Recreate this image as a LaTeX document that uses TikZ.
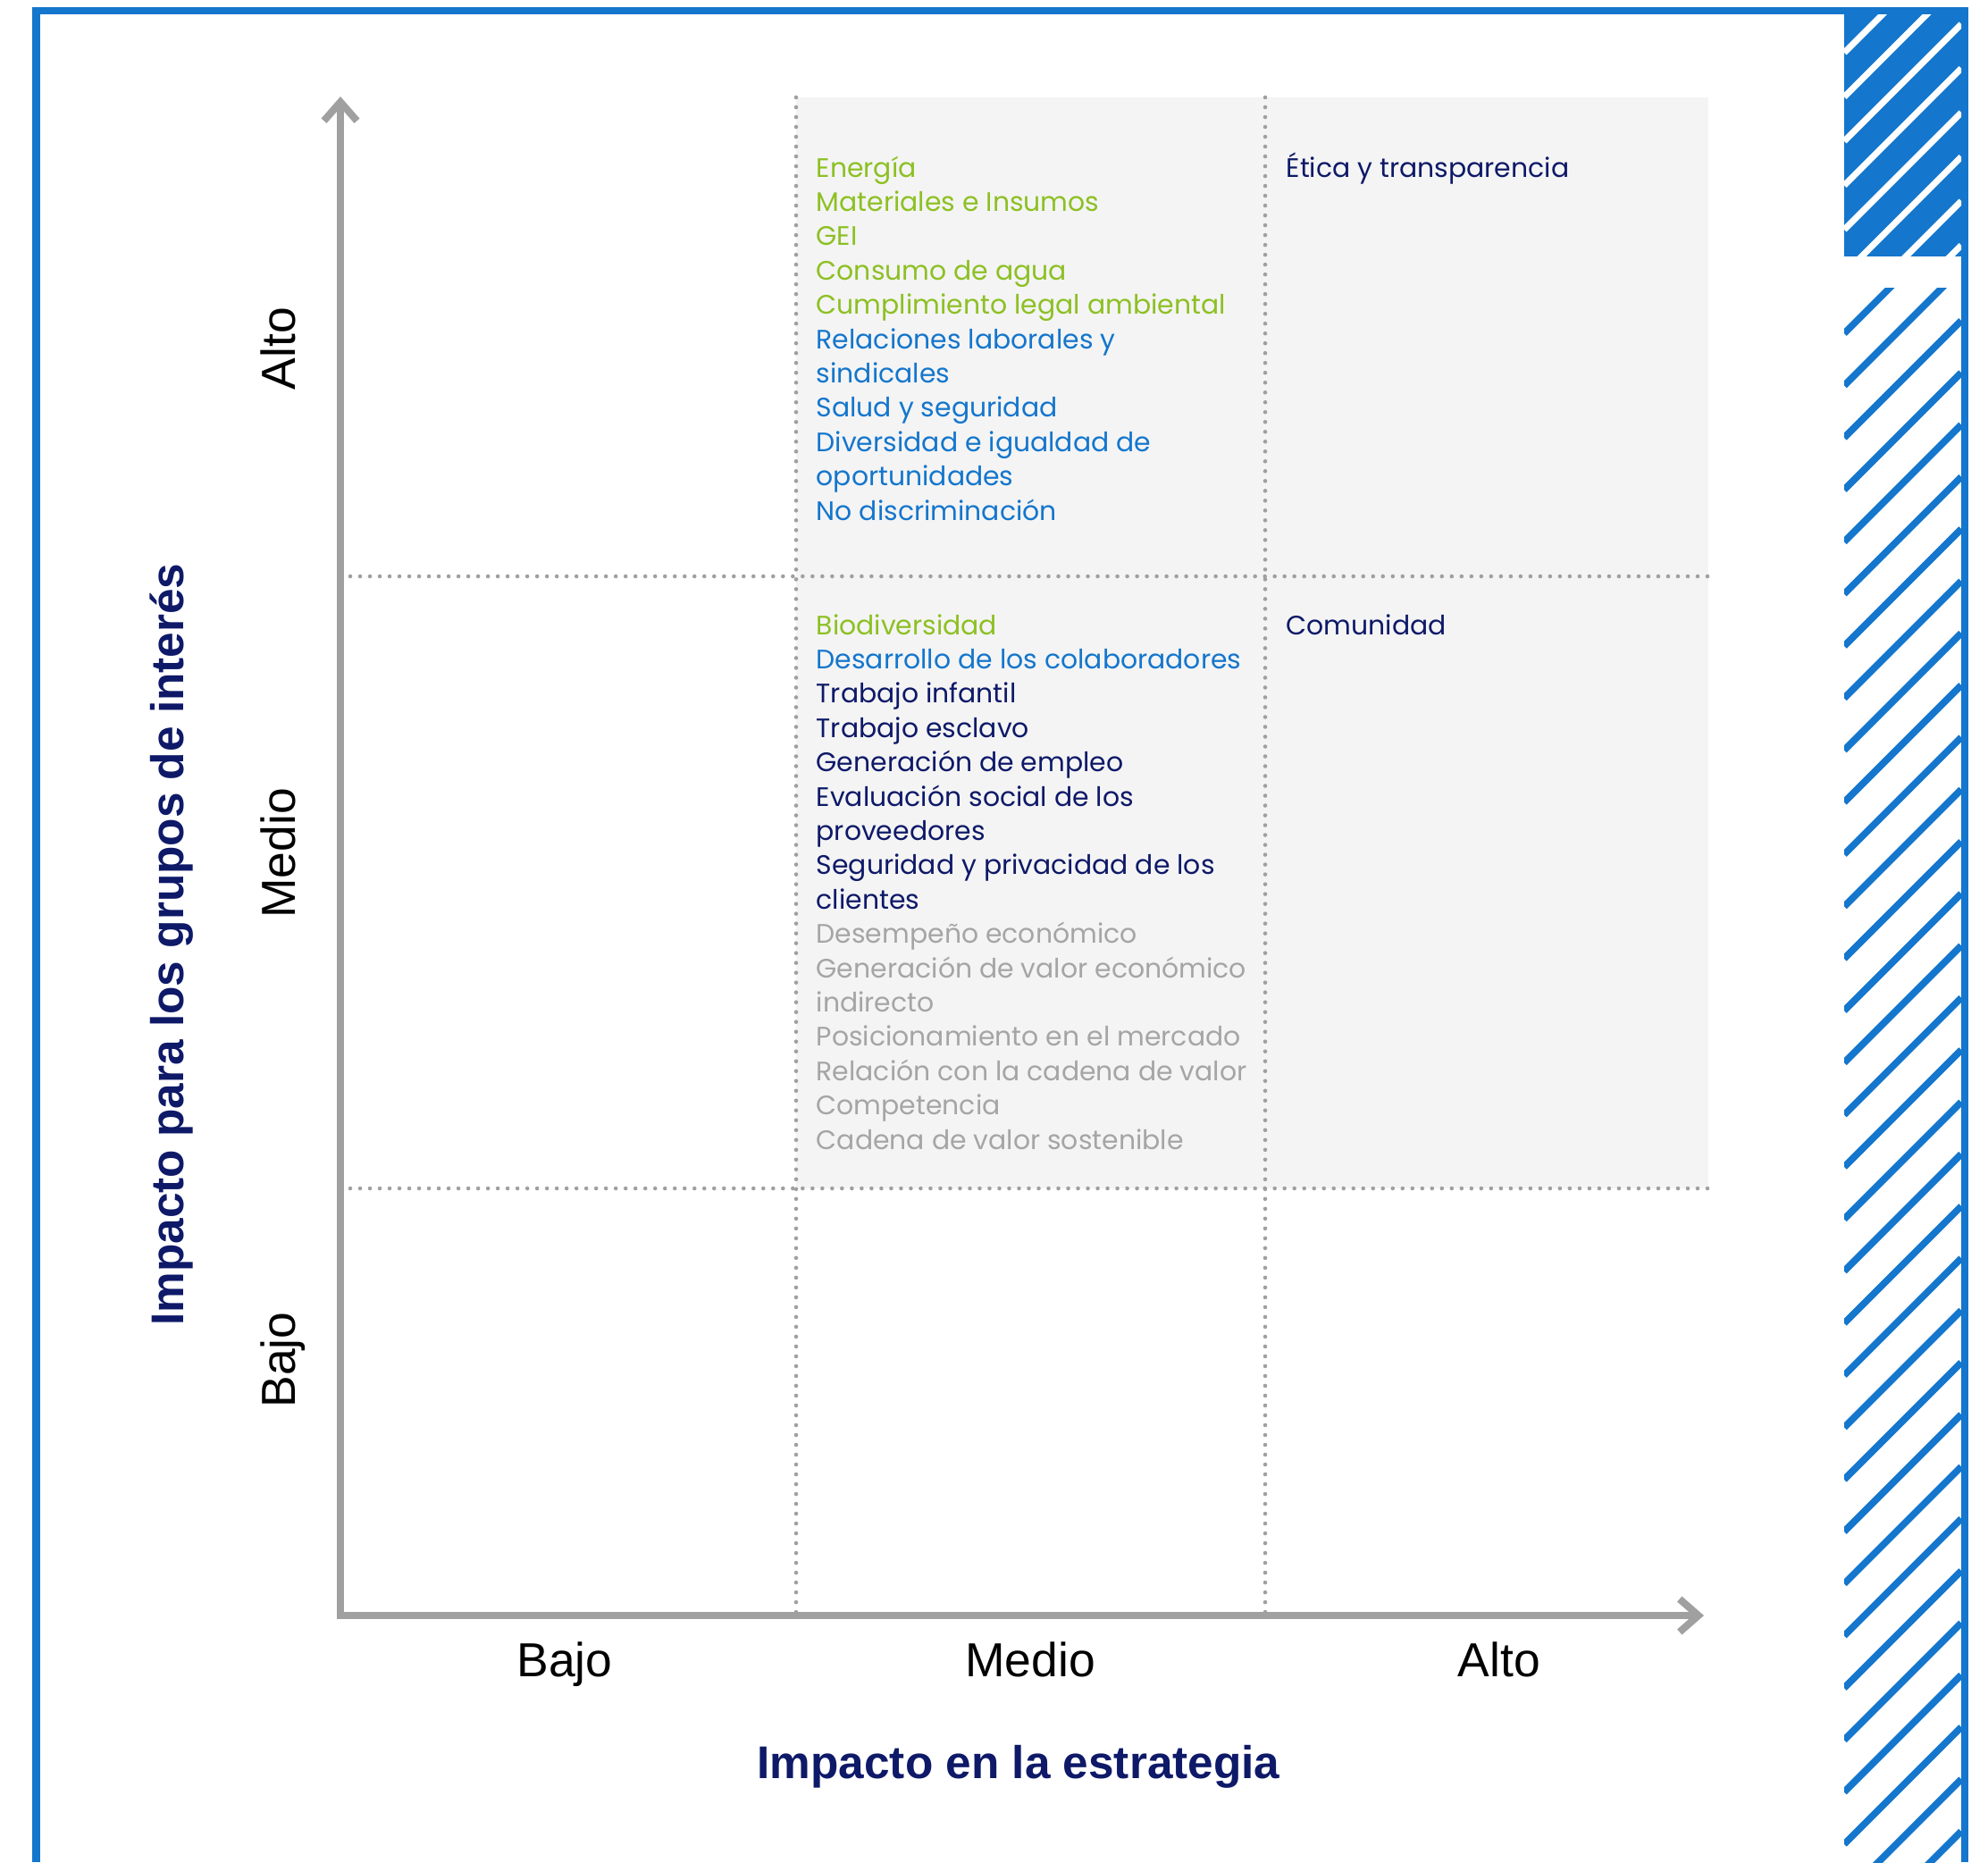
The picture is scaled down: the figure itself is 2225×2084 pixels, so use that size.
\documentclass[tikz,border=0pt]{standalone}
\usepackage{fontspec}
\setmainfont{Liberation Sans}
\newfontfamily\itemfont{Poppins}
\usetikzlibrary{arrows.meta}

\definecolor{mblue}{RGB}{20,118,204}
\definecolor{mgreen}{RGB}{141,192,35}
\definecolor{mnavy}{RGB}{14,25,104}
\definecolor{mgray}{RGB}{165,165,165}
\definecolor{axisgray}{RGB}{160,160,160}
\definecolor{cellgray}{RGB}{244,244,244}

\begin{document}
\begin{tikzpicture}[x=0.01cm,y=-0.01cm,
    axisline/.style={draw=axisgray,line width=2.3pt,line join=miter,>={Straight Barb[sharp,length=6pt,width=10.5pt]},<->},
    dotline/.style={draw=axisgray,line width=1.3pt,line cap=round,dash pattern=on 0pt off 3.13pt},
    item/.style={anchor=base west,inner sep=0pt,text=#1,font=\itemfont\fontsize{8.5}{11}\selectfont},
    level/.style={inner sep=0pt,font=\fontsize{15.2}{18}\selectfont},
    title/.style={inner sep=0pt,text=mnavy,font=\bfseries\fontsize{14.6}{17}\selectfont}]

    \useasboundingbox (0,0) rectangle (2225,2084);

    % frame and hatched strip
    \draw[mblue,line width=2.28pt] (40.5,2084) |- (2199,12) -- (2199,2084);
    \fill[mblue] (2064,16) rectangle (2195,287);
    \begin{scope}
        \clip (2064,16) rectangle (2195,287);
        \foreach \k in {-3,...,9}
            \draw[white,line width=2pt] (2064,{9.5+49.5*\k}) -- ++(131,-131);
    \end{scope}
    \begin{scope}
        \clip (2064,322) rectangle (2195,2084);
        \foreach \k in {-28,...,6}
            \draw[mblue,line width=2.2pt] (2064,{1889+58.3*\k}) -- ++(131,-131);
    \end{scope}

    % matrix
    \fill[cellgray] (891,109) rectangle (1912,1330);
    \draw[dotline] (891,109) -- (891,1808);
    \draw[dotline] (1416,109) -- (1416,1808);
    \draw[dotline] (381,645) -- (1912,645);
    \draw[dotline] (381,1330) -- (1912,1330);
    \draw[axisline] (381,108) -- (381,1808) -- (1907,1808);

    % levels
    \node[level,anchor=base] (xlow) at (632,1876) {Bajo};
    \node[level,anchor=base] (xmid) at (1153,1876) {Medio};
    \node[level,anchor=base] (xhigh) at (1678,1876) {Alto};
    \node[level,rotate=90,anchor=base] (ylow) at (330,1522) {Bajo};
    \node[level,rotate=90,anchor=base] (ymid) at (330,955) {Medio};
    \node[level,rotate=90,anchor=base] (yhigh) at (330,390) {Alto};

    \node[title,anchor=base] (xtitle) at (1140,1990) {Impacto en la estrategia};
    \node[title,rotate=90,anchor=base] (ytitle) at (205,1057) {Impacto para los grupos de interés};

    % topics
    \foreach \c/\t [count=\i from 0] in {mgreen/Energía, mgreen/Materiales e Insumos, mgreen/GEI,
        mgreen/Consumo de agua, mgreen/Cumplimiento legal ambiental, mblue/Relaciones laborales y,
        mblue/sindicales, mblue/Salud y seguridad, mblue/Diversidad e igualdad de,
        mblue/oportunidades, mblue/No discriminación}
        \node[item=\c] (high-\i) at (913,{198+38.4*\i}) {\t};
    \node[item=mnavy] (etica) at (1439,198) {Ética y transparencia};

    \foreach \c/\t [count=\i from 0] in {mgreen/Biodiversidad, mblue/Desarrollo de los colaboradores,
        mnavy/Trabajo infantil, mnavy/Trabajo esclavo, mnavy/Generación de empleo,
        mnavy/Evaluación social de los, mnavy/proveedores, mnavy/Seguridad y privacidad de los,
        mnavy/clientes, mgray/Desempeño económico, mgray/Generación de valor económico,
        mgray/indirecto, mgray/Posicionamiento en el mercado, mgray/Relación con la cadena de valor,
        mgray/Competencia, mgray/Cadena de valor sostenible}
        \node[item=\c] (mid-\i) at (913,{710+38.4*\i}) {\t};
    \node[item=mnavy] (comunidad) at (1439,710) {Comunidad};
\end{tikzpicture}
\end{document}
